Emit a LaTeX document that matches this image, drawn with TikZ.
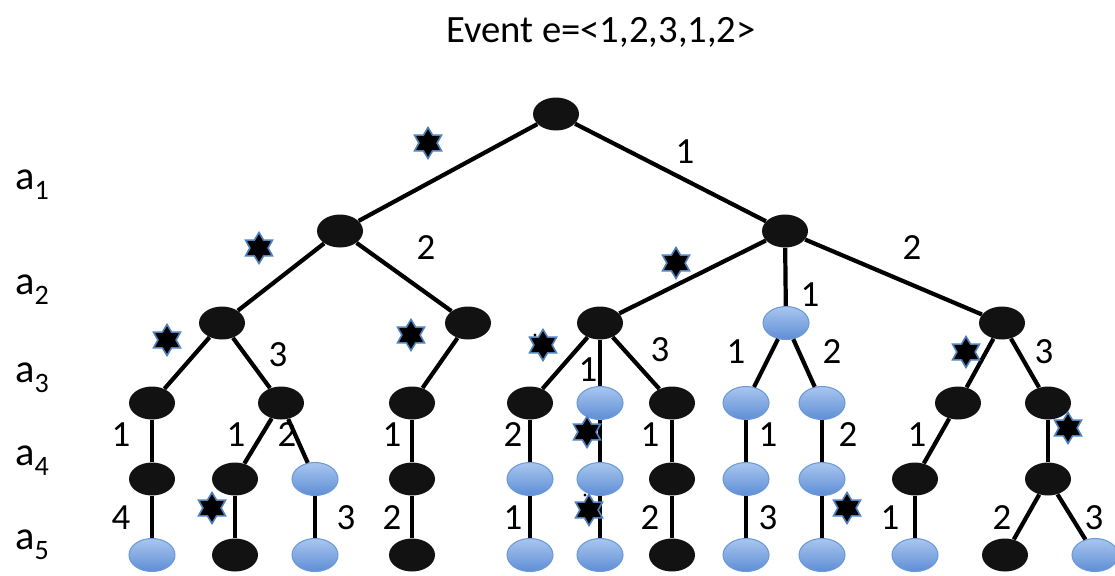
\documentclass[tikz,border=0pt]{standalone}
\usepackage{fontspec}
\setmainfont{Carlito}
\usetikzlibrary{shapes.geometric}
\definecolor{starblue}{HTML}{4F81BD}
\definecolor{nodeblue}{HTML}{6A9AD9}
\definecolor{toplight}{HTML}{A9C6EE}
\definecolor{botdark}{HTML}{5E8ED6}
\newcommand{\alab}[1]{a\raisebox{-0.25em}{\fontsize{16}{16}\selectfont #1}}
\tikzset{
  blk/.style={ellipse, fill=black!93, minimum width=0.92cm, minimum height=0.66cm, inner sep=0pt},
  blu/.style={ellipse, top color=toplight, bottom color=botdark, draw=nodeblue, line width=0.6pt,
    minimum width=0.92cm, minimum height=0.66cm, inner sep=0pt},
  evstar/.style={star, star points=6, star point ratio=1.7, fill=black, draw=starblue,
    line width=0.9pt, minimum size=0.62cm, inner sep=0pt},
  lbl/.style={font=\fontsize{21}{21}\selectfont, inner sep=0pt},
  lvl/.style={font=\fontsize{23}{23}\selectfont, inner sep=0pt}
}
\begin{document}
\begin{tikzpicture}[x=0.02cm, y=-0.02cm]
  \useasboundingbox (0,0) rectangle (1115,575);
  \node[font=\fontsize{22}{22}\selectfont, anchor=base] (title) at (601,42) {Event e=<1,2,3,1,2>};
  % level names
  \node[lvl] (a1) at (32,185) {\alab{1}};
  \node[lvl] (a2) at (32,290) {\alab{2}};
  \node[lvl] (a3) at (32,378) {\alab{3}};
  \node[lvl] (a4) at (32,461) {\alab{4}};
  \node[lvl] (a5) at (32,545) {\alab{5}};
  % tree nodes
  \draw
    (556,114) node[blk] (a){}
    (340,231) node[blk] (b1){}
    (785,231) node[blk] (b2){}
    (222,323) node[blk] (c1){}
    (468,323) node[blk] (c2){}
    (600,323) node[blk] (c3){}
    (786,323) node[blu] (c4){}
    (1002,323) node[blk] (c5){}
    (152,403) node[blk] (d1){}
    (281,403) node[blk] (d2){}
    (412,403) node[blk] (d3){}
    (530,403) node[blk] (d4){}
    (600,403) node[blu] (d5){}
    (672,403) node[blk] (d6){}
    (746,403) node[blu] (d7){}
    (822,403) node[blu] (d8){}
    (958,403) node[blk] (d9){}
    (1048,403) node[blk] (d10){}
    (152,479) node[blk] (e1){}
    (235,479) node[blk] (e2){}
    (315,479) node[blu] (e3){}
    (412,479) node[blk] (e4){}
    (530,479) node[blu] (e5){}
    (600,479) node[blu] (e6){}
    (672,479) node[blk] (e7){}
    (746,479) node[blu] (e8){}
    (822,479) node[blu] (e9){}
    (915,479) node[blk] (e10){}
    (1048,479) node[blk] (e11){}
    (152,555) node[blu] (f1){}
    (235,555) node[blk] (f2){}
    (315,555) node[blu] (f3){}
    (412,555) node[blk] (f4){}
    (530,555) node[blu] (f5){}
    (600,555) node[blu] (f6){}
    (672,555) node[blk] (f7){}
    (746,555) node[blu] (f8){}
    (822,555) node[blu] (f9){}
    (915,555) node[blu] (f10){}
    (1005,555) node[blk] (f11){}
    (1095,555) node[blu] (f12){};
  \begin{scope}[line width=2.4pt]
    \draw (a) to (b1);
    \draw (a) to (b2);
    \draw (b1) to (c1);
    \draw (b1) to (c2);
    \draw (b2) to (c3);
    \draw (b2) to (c4);
    \draw (b2) to (c5);
    \draw (c1) to (d1);
    \draw (c1) to (d2);
    \draw (c2) to (d3);
    \draw (c3) to (d4);
    \draw (c3) to (d5);
    \draw (c3) to (d6);
    \draw (c4) to (d7);
    \draw (c4) to (d8);
    \draw (c5) to (d9);
    \draw (c5) to (d10);
    \draw (d1) to (e1);
    \draw (d2) to (e2);
    \draw (d2) to (e3);
    \draw (d3) to (e4);
    \draw (d4) to (e5);
    \draw (d5) to (e6);
    \draw (d6) to (e7);
    \draw (d7) to (e8);
    \draw (d8) to (e9);
    \draw (d9) to (e10);
    \draw (d10) to (e11);
    \draw (e1) to (f1);
    \draw (e2) to (f2);
    \draw (e3) to (f3);
    \draw (e4) to (f4);
    \draw (e5) to (f5);
    \draw (e6) to (f6);
    \draw (e7) to (f7);
    \draw (e8) to (f8);
    \draw (e9) to (f9);
    \draw (e10) to (f10);
    \draw (e11) to (f11);
    \draw (e11) to (f12);
  \end{scope}
  % stars
  \draw
    (428,143) node[evstar] (s1){}
    (259,248) node[evstar] (s2){}
    (167,340) node[evstar] (s3){}
    (411,335) node[evstar] (s4){}
    (676,263) node[evstar] (s5){}
    (543,345) node[evstar] (s6){}
    (966,352) node[evstar] (s7){}
    (587,432) node[evstar] (s8){}
    (1068,428) node[evstar] (s9){}
    (212,508) node[evstar] (s10){}
    (589,510) node[evstar] (s11){}
    (847,508) node[evstar] (s12){};
  \fill (535,335) circle (1.6) (585,495) circle (1.6);
  % edge labels
  \draw
    (685,152) node[lbl] (l1){1}
    (426,248) node[lbl] (l2){2}
    (810,295) node[lbl] (l3){1}
    (912,248) node[lbl] (l4){2}
    (278,355) node[lbl] (l5){3}
    (588,370) node[lbl] (l6){1}
    (660,350) node[lbl] (l7){3}
    (736,352) node[lbl] (l8){1}
    (832,352) node[lbl] (l9){2}
    (1044,352) node[lbl] (l10){3}
    (121,435) node[lbl] (l11){1}
    (236,435) node[lbl] (l12){1}
    (287,435) node[lbl] (l13){2}
    (392,435) node[lbl] (l14){1}
    (513,435) node[lbl] (l15){2}
    (650,435) node[lbl] (l16){1}
    (768,435) node[lbl] (l17){1}
    (848,435) node[lbl] (l18){2}
    (917,435) node[lbl] (l19){1}
    (121,518) node[lbl] (l20){4}
    (346,518) node[lbl] (l21){3}
    (392,518) node[lbl] (l22){2}
    (513,518) node[lbl] (l23){1}
    (650,518) node[lbl] (l24){2}
    (768,518) node[lbl] (l25){3}
    (890,518) node[lbl] (l26){1}
    (1002,518) node[lbl] (l27){2}
    (1094,518) node[lbl] (l28){3};
\end{tikzpicture}
\end{document}
